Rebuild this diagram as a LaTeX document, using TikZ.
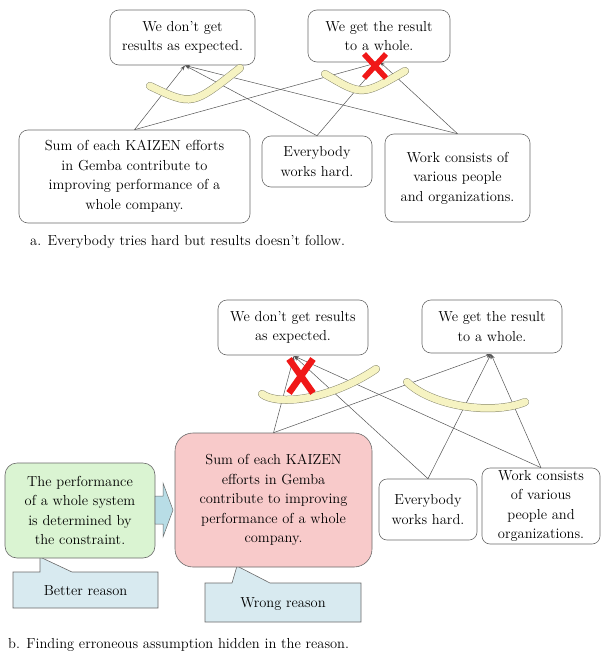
\documentclass[tikz,border=0pt]{standalone}
\usepackage{fontspec}
\usetikzlibrary{arrows.meta}
\definecolor{boxline}{HTML}{6A6A6A}
\definecolor{linkgray}{HTML}{555555}
\definecolor{bandfill}{HTML}{F6F3C2}
\definecolor{bandline}{HTML}{8A8A70}
\definecolor{greenfill}{HTML}{DAF4D2}
\definecolor{pinkfill}{HTML}{F8CACA}
\definecolor{callfill}{HTML}{D8EAF0}
\definecolor{arrowfill}{HTML}{B8DDE6}
\definecolor{crossred}{HTML}{F01818}
\tikzset{
  txt/.style={font=\fontsize{14.5}{19.5}\selectfont, align=center},
  rbox/.style={txt, draw=boxline, line width=0.6pt, rounded corners=9pt, inner sep=0pt},
  link/.style={draw=linkgray, line width=0.5pt, -{Stealth[length=5pt,width=3.5pt]}},
  band/.style={draw=bandline, line width=0.5pt, double=bandfill, double distance=7pt, line cap=round},
  cross/.style={draw=crossred, line cap=butt},
  callout/.style={draw=boxline, fill=callfill, line width=0.6pt},
  caption/.style={font=\fontsize{14.5}{16}\selectfont, anchor=base west, inner sep=0pt}
}
\begin{document}
\begin{tikzpicture}[x=1pt,y=-1pt]
\useasboundingbox (0,0) rectangle (604,653);
\fill[white] (0,0) rectangle (604,653);

% ---------- part a ----------
\node[rbox, minimum width=145pt, minimum height=55pt] (a1) at (182.5,37.5) {We don’t get\\results as expected.};
\node[rbox, minimum width=142pt, minimum height=52pt] (a2) at (379,36) {We get the result\\to a whole.};
\node[rbox, minimum width=231pt, minimum height=93pt] (asum) at (134.5,176.5) {Sum of each KAIZEN efforts\\in Gemba contribute to\\improving performance of a\\whole company.};
\node[rbox, minimum width=110pt, minimum height=51pt] (aeb) at (317,161.5) {Everybody\\works hard.};
\node[rbox, minimum width=145pt, minimum height=88pt] (awork) at (457.5,178) {Work consists of\\various people\\and organizations.};

\coordinate (ta1) at (185,65.5);
\coordinate (ta2) at (380,62);
\foreach \s in {asum,aeb,awork}{
  \draw[link] (\s.north) -- (ta1);
  \draw[link] (\s.north) -- (ta2);
}
\draw[band] (150,86) .. controls (192,106) .. (240,68);
\draw[band] (325,74) .. controls (362,96) .. (405,71);
\draw[cross, line width=5.5pt] (364,54) -- (386,78);
\draw[cross, line width=5.5pt] (386,54) -- (364,78);

\node[caption] (capa) at (30,245) {a. Everybody tries hard but results doesn’t follow.};

% ---------- part b ----------
\node[rbox, minimum width=150pt, minimum height=55pt] (b1) at (293,327.5) {We don’t get results\\as expected.};
\node[rbox, minimum width=140pt, minimum height=53pt] (b2) at (492,326.5) {We get the result\\to a whole.};

% callouts
\draw[callout] (13,572) -- (40,572) -- (40,557) -- (72,572) -- (158,572) -- (158,608) -- (13,608) -- cycle;
\draw[callout] (205,583) -- (232,583) -- (237,566) -- (270,583) -- (361,583) -- (361,622) -- (205,622) -- cycle;
\node[txt] (better) at (85.5,591) {Better reason};
\node[txt] (wrong) at (283,604) {Wrong reason};

\node[rbox, fill=greenfill, minimum width=150pt, minimum height=95pt, rounded corners=12pt] (green) at (80,510.5) {The performance\\of a whole system\\is determined by\\the constraint.};
\node[rbox, fill=pinkfill, minimum width=197pt, minimum height=134pt, rounded corners=18pt] (pink) at (273.5,500) {Sum of each KAIZEN\\efforts in Gemba\\contribute to improving\\performance of a whole\\company.};
\node[rbox, minimum width=98pt, minimum height=61pt, rounded corners=8pt] (beb) at (428,509.5) {Everybody\\works hard.};
\node[rbox, minimum width=118pt, minimum height=76pt, rounded corners=8pt] (bwork) at (541,506) {Work consists\\of various\\people and\\organizations.};

% block arrow
\draw[draw=boxline, fill=arrowfill, line width=0.5pt] (155,496) -- (163,496) -- (163,483) -- (173,510) -- (163,537) -- (163,524) -- (155,524) -- cycle;

\coordinate (tb1) at (294,356);
\coordinate (tb2) at (491,354);
\foreach \s in {pink,beb,bwork}{
  \draw[link] (\s.north) -- (tb1);
  \draw[link] (\s.north) -- (tb2);
}
\draw[band] (262,394) .. controls (278,406) and (330,400) .. (376,369);
\draw[band] (407,382) .. controls (430,405) and (490,416) .. (525,402);
\draw[cross, line width=6.5pt] (289,359) -- (313,393);
\draw[cross, line width=6.5pt] (313,359) -- (289,393);

\node[caption] (capb) at (8,648) {b. Finding erroneous assumption hidden in the reason.};
\end{tikzpicture}
\end{document}
